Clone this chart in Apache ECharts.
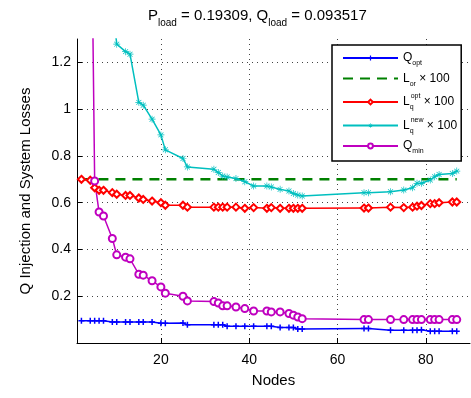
<!DOCTYPE html>
<html>
<head>
<meta charset="utf-8">
<script src="https://cdn.jsdelivr.net/npm/echarts@6/dist/echarts.min.js"></script>
<style>
html, body { margin: 0; padding: 0; background: #fff; }
#chart { width: 471px; height: 398px; }
</style>
</head>
<body>
<div id="chart"></div>
<script>
// node indices shared by the curves
const nodes = [2, 4, 5, 6, 7, 9, 10, 12, 13, 15, 16, 18, 20, 21, 25, 26, 32, 33, 34, 35, 37,
  39, 41, 44, 45, 47, 49, 50, 51, 52, 66, 67, 72, 75, 77, 78, 79, 81, 82, 83, 86, 87];

const qOpt = [0.095, 0.095, 0.095, 0.095, 0.095, 0.09, 0.09, 0.09, 0.09, 0.09, 0.09, 0.09, 0.084,
  0.084, 0.085, 0.078, 0.078, 0.078, 0.078, 0.072, 0.072, 0.072, 0.072, 0.072, 0.072, 0.066, 0.066,
  0.066, 0.06, 0.06, 0.062, 0.062, 0.055, 0.055, 0.055, 0.055, 0.057, 0.05, 0.05, 0.05, 0.05, 0.05];

const lOrNodes = [2, 87];
const lOr = [0.7, 0.7];

const lqOpt = [0.70, 0.696, 0.664, 0.653, 0.653, 0.643, 0.636, 0.631, 0.631, 0.62, 0.614, 0.607,
  0.60, 0.589, 0.589, 0.581, 0.581, 0.581, 0.581, 0.581, 0.581, 0.576, 0.579, 0.576, 0.579, 0.576,
  0.576, 0.576, 0.576, 0.576, 0.577, 0.577, 0.581, 0.579, 0.581, 0.585, 0.588, 0.596, 0.596, 0.6,
  0.603, 0.603];

const lqNew = [3.2, 2.8, 2.5, 2.2, 1.9, 1.45, 1.278, 1.246, 1.235, 1.029, 1.017, 0.957, 0.89,
  0.826, 0.789, 0.753, 0.743, 0.729, 0.714, 0.71, 0.703, 0.69, 0.671, 0.671, 0.667, 0.657, 0.65,
  0.639, 0.633, 0.629, 0.643, 0.643, 0.647, 0.654, 0.664, 0.683, 0.683, 0.697, 0.711, 0.721,
  0.725, 0.735];

const qMin = [3.5, 2.3, 0.693, 0.56, 0.543, 0.447, 0.377, 0.367, 0.36, 0.294, 0.29, 0.266, 0.24,
  0.213, 0.2, 0.18, 0.177, 0.171, 0.159, 0.159, 0.154, 0.147, 0.137, 0.137, 0.133, 0.133, 0.126,
  0.119, 0.111, 0.104, 0.1, 0.1, 0.1, 0.1, 0.1, 0.1, 0.1, 0.1, 0.1, 0.1, 0.1, 0.1];

const xTicks = [20, 40, 60, 80];
const yTicks = [0.2, 0.4, 0.6, 0.8, 1, 1.2];

const font = "'Liberation Sans', Arial, sans-serif";
const pair = (xs, ys) => xs.map((x, i) => [x, ys[i]]);

const plusSym = 'path://M3,0H5V3H8V5H5V8H3V5H0V3H3Z';
const starSym = 'path://M4.5,0H5.5V10H4.5Z M0,4.5H10V5.5H0Z M1.1,1.8L1.8,1.1L8.9,8.2L8.2,8.9Z M8.2,1.1L8.9,1.8L1.8,8.9L1.1,8.2Z';

const legendText = {
  'Qopt': '{b|Q}{sb|opt}',
  'Lor': '{b|L}{sb|or}{b| × 100}',
  'LqOpt': '{b|L}{sq|q}{sp|opt}{b| × 100}',
  'LqNew': '{b|L}{sq|q}{sp|new}{b| × 100}',
  'Qmin': '{b|Q}{sb|min}'
};

const myChart = echarts.init(document.getElementById('chart'));
const option = {
  animation: false,
  backgroundColor: '#fff',
  title: {
    text: 'P{s|load} = 0.19309, Q{s|load} = 0.093517',
    left: 148,
    top: 4,
    padding: 0,
    textStyle: {
      fontFamily: font, fontSize: 15, fontWeight: 'normal', color: '#000',
      rich: {
        s: { fontFamily: font, fontSize: 10, color: '#000', verticalAlign: 'bottom', lineHeight: 10 }
      },
      lineHeight: 24
    }
  },
  grid: { left: 77, right: 1, top: 39, bottom: 55, containLabel: false },
  legend: {
    orient: 'vertical',
    left: 332,
    top: 45,
    padding: [7, 4, 6, 10],
    itemWidth: 55,
    itemHeight: 6,
    itemGap: 5.5,
    backgroundColor: '#fff',
    borderColor: '#000',
    borderWidth: 1.5,
    borderRadius: 0,
    data: ['Qopt', { name: 'Lor', itemStyle: { opacity: 0 } }, 'LqOpt', 'LqNew', 'Qmin'],
    formatter: name => legendText[name],
    textStyle: {
      fontFamily: font, color: '#000', fontSize: 12,
      rich: {
        b: { fontFamily: font, fontSize: 12, color: '#000', lineHeight: 18 },
        sb: { fontFamily: font, fontSize: 7, color: '#000', lineHeight: 8, verticalAlign: 'bottom' },
        sq: { fontFamily: font, fontSize: 7, color: '#000', lineHeight: 8, verticalAlign: 'bottom', width: 1 },
        sp: { fontFamily: font, fontSize: 7, color: '#000', lineHeight: 8, verticalAlign: 'top' }
      }
    }
  },
  xAxis: {
    type: 'value',
    min: 1,
    max: 90,
    name: 'Nodes',
    nameLocation: 'middle',
    nameGap: 30,
    nameTextStyle: { fontFamily: font, fontSize: 15, color: '#000' },
    axisLine: { show: true, onZero: false, lineStyle: { color: '#000', width: 1 } },
    axisTick: { show: true, inside: true, length: 5, customValues: xTicks, lineStyle: { color: '#000' } },
    axisLabel: { customValues: xTicks, fontFamily: font, fontSize: 14, color: '#000', margin: 10 },
    splitLine: { show: true, lineStyle: { color: '#444', type: [1, 4], width: 1 } }
  },
  yAxis: {
    type: 'value',
    min: 0,
    max: 1.3,
    name: 'Q Injection and System Losses',
    nameLocation: 'middle',
    nameGap: 44,
    nameTextStyle: { fontFamily: font, fontSize: 15, color: '#000' },
    axisLine: { show: true, onZero: false, lineStyle: { color: '#000', width: 1 } },
    axisTick: { show: true, inside: true, length: 5, customValues: yTicks, lineStyle: { color: '#000' } },
    axisLabel: { customValues: yTicks, fontFamily: font, fontSize: 14, color: '#000', margin: 6 },
    splitLine: { show: true, lineStyle: { color: '#444', type: [1, 4], width: 1 } }
  },
  series: [
    {
      name: 'Qopt', type: 'line', data: pair(nodes, qOpt),
      symbol: plusSym, symbolSize: 6,
      itemStyle: { color: '#0000ff' },
      lineStyle: { color: '#0000ff', width: 1.5 }
    },
    {
      name: 'Lor', type: 'line', data: pair(lOrNodes, lOr),
      symbol: 'none',
      itemStyle: { color: '#008000' },
      lineStyle: { color: '#008000', width: 2.5, type: [10, 7] }
    },
    {
      name: 'LqOpt', type: 'line', data: pair(nodes, lqOpt),
      symbol: 'emptyDiamond', symbolSize: 7,
      itemStyle: { color: '#ff0000', borderColor: '#ff0000', borderWidth: 1.5 },
      lineStyle: { color: '#ff0000', width: 1.5 }
    },
    {
      name: 'LqNew', type: 'line', data: pair(nodes, lqNew),
      symbol: starSym, symbolSize: 7,
      itemStyle: { color: '#00bfbf' },
      lineStyle: { color: '#00bfbf', width: 1.5 }
    },
    {
      name: 'Qmin', type: 'line', data: pair(nodes, qMin),
      symbol: 'emptyCircle', symbolSize: 7,
      itemStyle: { color: '#bf00bf', borderColor: '#bf00bf', borderWidth: 1.2 },
      lineStyle: { color: '#bf00bf', width: 1.5 }
    }
  ]
};
myChart.setOption(option);
window.onresize = () => {
  myChart.resize();
};
</script>
</body>
</html>
